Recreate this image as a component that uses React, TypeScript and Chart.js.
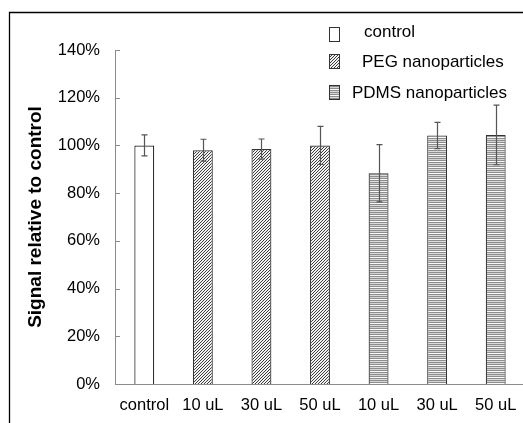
import React, { useEffect, useRef } from 'react';
import { Chart, registerables } from 'chart.js';

Chart.register(...registerables);

const categories = ['control', '10 uL', '30 uL', '50 uL', '10 uL', '30 uL', '50 uL'];
const seriesNames = ['control', 'PEG nanoparticles', 'PDMS nanoparticles'];
const seriesOfCategory = [0, 1, 1, 1, 2, 2, 2];
const means = [100, 98, 98.5, 100, 88.3, 104.2, 104.4];
const errors = [4.4, 4.6, 4.2, 8, 12, 5.5, 12.5];
const yTickValues = [0, 20, 40, 60, 80, 100, 120, 140];
const yTickLabels = ['0%', '20%', '40%', '60%', '80%', '100%', '120%', '140%'];
const yTitle = 'Signal relative to control';

const FONT = "'Liberation Sans', Arial, Helvetica, sans-serif";

function makePattern(kind: number): CanvasPattern | string {
  if (kind === 0) return '#ffffff';
  const c = document.createElement('canvas');
  const g = c.getContext('2d')!;
  if (kind === 1) {
    c.width = 3; c.height = 3;
    g.fillStyle = '#f2f2f2';
    g.fillRect(0, 0, 3, 3);
    g.fillStyle = '#3c3c3c';
    g.fillRect(0, 2, 1, 1);
    g.fillRect(1, 1, 1, 1);
    g.fillRect(2, 0, 1, 1);
  } else {
    c.width = 2; c.height = 6;
    const rows = ['#8e8e8e', '#dcdcdc', '#8e8e8e', '#d4d4d4', '#8e8e8e', '#fafafa'];
    rows.forEach((col, i) => { g.fillStyle = col; g.fillRect(0, i, 2, 1); });
  }
  const pat = g.createPattern(c, 'repeat');
  return pat || '#999';
}

export default function App() {
  const ref = useRef<HTMLCanvasElement | null>(null);
  useEffect(() => {
    const canvas = ref.current;
    if (!canvas) return;
    const fills = [0, 1, 2].map(makePattern);
    const borders = ['#222222', '#333333', '#333333'];
    const datasets = seriesNames.map((name, s) => ({
      label: name,
      data: means.map((v, i) => (seriesOfCategory[i] === s ? v : null)),
      backgroundColor: fills[s] as any,
      borderColor: borders[s],
      borderWidth: 1.2,
      barPercentage: 0.34,
      categoryPercentage: 1,
      grouped: false,
    }));

    const framePlugin = {
      id: 'frame',
      beforeDraw(chart: any) {
        const ctx = chart.ctx;
        ctx.save();
        ctx.fillStyle = '#fff';
        ctx.fillRect(0, 0, chart.width, chart.height);
        ctx.strokeStyle = '#000';
        ctx.lineWidth = 1.3;
        ctx.beginPath();
        ctx.moveTo(9.5, chart.height + 2);
        ctx.lineTo(9.5, 12.5);
        ctx.lineTo(chart.width + 2, 12.5);
        ctx.stroke();
        ctx.restore();
      },
    };

    const innerTicks = {
      id: 'innerTicks',
      afterDraw(chart: any) {
        const ctx = chart.ctx;
        const y = chart.scales.y;
        const x0 = chart.chartArea.left;
        ctx.save();
        ctx.strokeStyle = '#8c8c8c';
        ctx.lineWidth = 1;
        yTickValues.forEach((v) => {
          if (v === 0) return;
          const py = Math.round(y.getPixelForValue(v)) + 0.5;
          ctx.beginPath();
          ctx.moveTo(x0, py);
          ctx.lineTo(x0 + 5, py);
          ctx.stroke();
        });
        ctx.restore();
      },
    };

    const errorBars = {
      id: 'errorBars',
      afterDatasetsDraw(chart: any) {
        const ctx = chart.ctx;
        const y = chart.scales.y;
        ctx.save();
        ctx.strokeStyle = '#555555';
        ctx.lineWidth = 1.2;
        chart.data.datasets.forEach((ds: any, di: number) => {
          const meta = chart.getDatasetMeta(di);
          ds.data.forEach((v: number | null, i: number) => {
            if (v === null) return;
            const el = meta.data[i];
            const cx = Math.round(el.x) + 0.5;
            const top = y.getPixelForValue(v + errors[i]);
            const bot = y.getPixelForValue(v - errors[i]);
            ctx.beginPath();
            ctx.moveTo(cx, top);
            ctx.lineTo(cx, bot);
            ctx.moveTo(cx - 3, top);
            ctx.lineTo(cx + 3, top);
            ctx.moveTo(cx - 3, bot);
            ctx.lineTo(cx + 3, bot);
            ctx.stroke();
          });
        });
        ctx.restore();
      },
    };

    const legendPos = [
      { bx: 329, by: 27, tx: 364, ty: 32 },
      { bx: 329, by: 54, tx: 362, ty: 62.5 },
      { bx: 329, by: 85, tx: 352, ty: 93 },
    ];
    const customLegend = {
      id: 'customLegend',
      afterDraw(chart: any) {
        const ctx = chart.ctx;
        ctx.save();
        chart.data.datasets.forEach((ds: any, i: number) => {
          const p = legendPos[i];
          ctx.fillStyle = ds.backgroundColor;
          ctx.fillRect(p.bx, p.by, 10, 14);
          ctx.strokeStyle = '#333';
          ctx.lineWidth = 1;
          ctx.strokeRect(p.bx + 0.5, p.by + 0.5, 10, 14);
          ctx.fillStyle = '#000';
          ctx.font = `17px ${FONT}`;
          ctx.textBaseline = 'middle';
          ctx.textAlign = 'left';
          ctx.fillText(ds.label, p.tx, p.ty);
        });
        ctx.restore();
      },
    };

    const chart = new Chart(canvas, {
      type: 'bar',
      data: { labels: categories, datasets: datasets as any },
      plugins: [framePlugin, innerTicks, errorBars, customLegend],
      options: {
        animation: false,
        responsive: false,
        devicePixelRatio: 1,
        layout: { padding: { top: 50, right: 5, left: 0, bottom: 0 } },
        plugins: { legend: { display: false }, tooltip: { enabled: false } },
        scales: {
          x: {
            grid: { display: false, drawTicks: false },
            border: { display: true, color: '#8c8c8c', width: 1 },
            ticks: {
              color: '#000',
              font: { family: FONT, size: 16.5 },
              padding: 12,
              maxRotation: 0,
              autoSkip: false,
            },
            afterFit: (s: any) => { s.height = 39; },
          },
          y: {
            min: 0,
            max: 140,
            grid: { display: false, drawTicks: false },
            border: { display: true, color: '#8c8c8c', width: 1 },
            afterBuildTicks: (s: any) => { s.ticks = yTickValues.map((v) => ({ value: v })); },
            ticks: {
              color: '#000',
              font: { family: FONT, size: 16.5 },
              padding: 15,
              callback: (v: any) => yTickLabels[yTickValues.indexOf(Number(v))] ?? '',
            },
            title: {
              display: true,
              text: yTitle,
              color: '#000',
              font: { family: FONT, size: 19, weight: 'bold' },
              padding: { top: 24, bottom: 0 },
            },
            afterFit: (s: any) => { s.width = 115; },
          },
        },
      },
    });
    return () => chart.destroy();
  }, []);

  return (
    <div style={{ position: 'fixed', left: 0, top: 0, width: 523, height: 423, overflow: 'hidden', background: '#fff' }}>
      <canvas ref={ref} width={530} height={423} style={{ width: 530, height: 423, display: 'block' }} />
    </div>
  );
}
